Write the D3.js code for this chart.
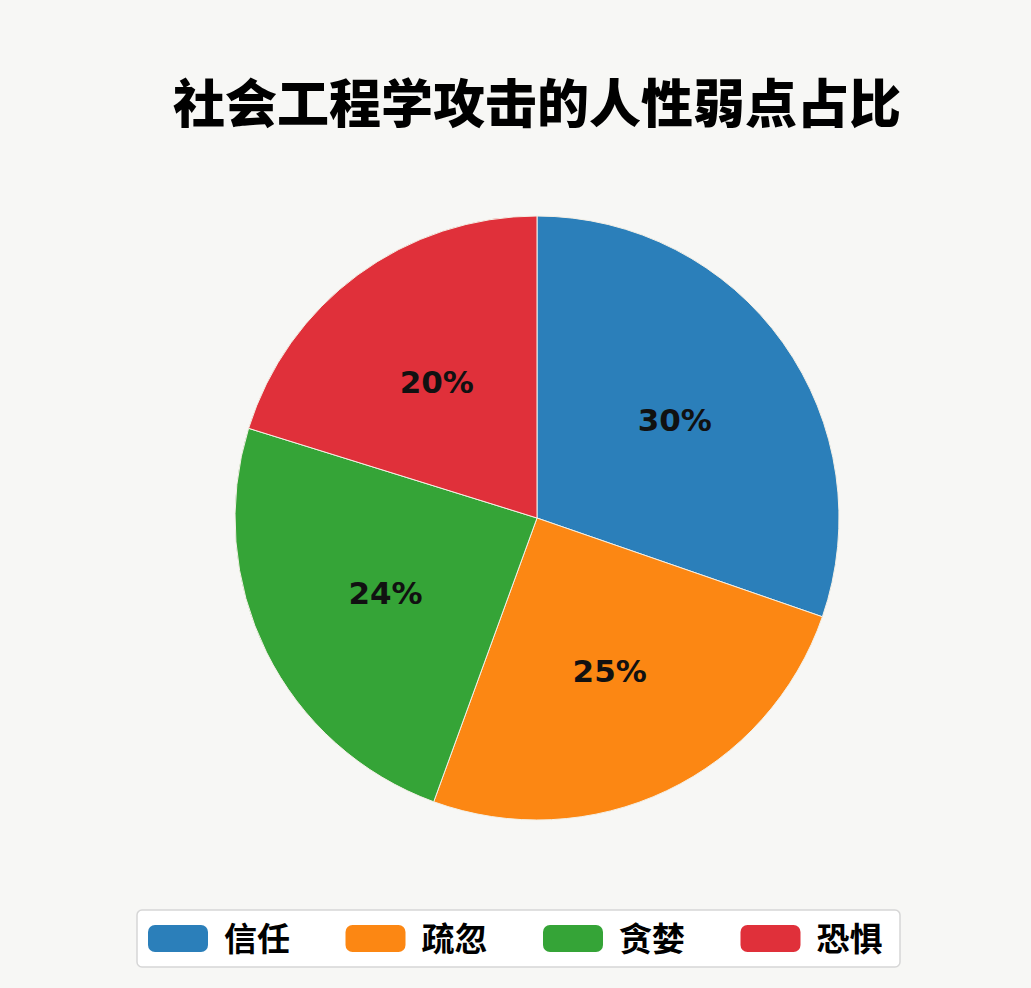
<!DOCTYPE html>
<html>
<head>
<meta charset="utf-8">
<script src="https://cdn.jsdelivr.net/npm/d3@7"></script>
<style>
  body { margin: 0; background: #f7f7f5; }
  svg { display: block; }
</style>
</head>
<body>
<svg class="chart" width="1031" height="988"></svg>
<script>
// chart data
var title = "社会工程学攻击的人性弱点占比";
var categories = ["信任", "疏忽", "贪婪", "恐惧"];
var values = [30, 25, 24, 20];
var colours = ["#2b7fba", "#fc8713", "#35a437", "#e0303a"];

// layout
var width = 1031, height = 988;
var cx = 537, cy = 518, radius = 302;

var svg = d3.select(".chart");

// title
svg.append("text")
    .attr("x", 537)
    .attr("y", 123)
    .attr("text-anchor", "middle")
    .attr("font-family", "'Noto Sans CJK SC', sans-serif")
    .attr("font-weight", 900)
    .attr("font-size", 52)
    .attr("fill", "#000")
    .text(title);

var pie = d3.pie().sort(null).value(function(d) { return d; });
var arcs = pie(values);
var arc = d3.arc().innerRadius(0).outerRadius(radius);
var labelArc = d3.arc().innerRadius(radius * 0.56).outerRadius(radius * 0.56);

var g = svg.append("g").attr("transform", "translate(" + cx + "," + cy + ")");

g.selectAll("path.slice")
    .data(arcs)
    .enter().append("path")
    .attr("class", "slice")
    .attr("d", arc)
    .attr("fill", function(d, i) { return colours[i]; })
    .attr("stroke", "#f4f0e6")
    .attr("stroke-width", 1);

// percentage labels
g.selectAll("text.pct")
    .data(arcs)
    .enter().append("text")
    .attr("class", "pct")
    .attr("transform", function(d) { return "translate(" + labelArc.centroid(d) + ")"; })
    .attr("text-anchor", "middle")
    .attr("dy", "0.36em")
    .attr("font-family", "'DejaVu Sans', sans-serif")
    .attr("font-weight", "bold")
    .attr("font-size", 31)
    .attr("fill", "#111")
    .text(function(d) { return d.data + "%"; });

// legend
var legend = svg.append("g").attr("transform", "translate(137,910)");
legend.append("rect")
    .attr("width", 763)
    .attr("height", 57)
    .attr("rx", 5)
    .attr("fill", "#fff")
    .attr("stroke", "#d6d6d6")
    .attr("stroke-width", 1.5);

var items = legend.selectAll("g.item")
    .data(categories)
    .enter().append("g")
    .attr("class", "item")
    .attr("transform", function(d, i) { return "translate(" + (11 + i * 197.5) + ",15)"; });

items.append("rect")
    .attr("width", 60)
    .attr("height", 27)
    .attr("rx", 7)
    .attr("fill", function(d, i) { return colours[i]; });

items.append("text")
    .attr("x", 76)
    .attr("y", 14)
    .attr("dy", "0.36em")
    .attr("font-family", "'Noto Sans CJK SC', sans-serif")
    .attr("font-weight", "bold")
    .attr("font-size", 33)
    .attr("fill", "#000")
    .text(function(d) { return d; });
</script>
</body>
</html>
